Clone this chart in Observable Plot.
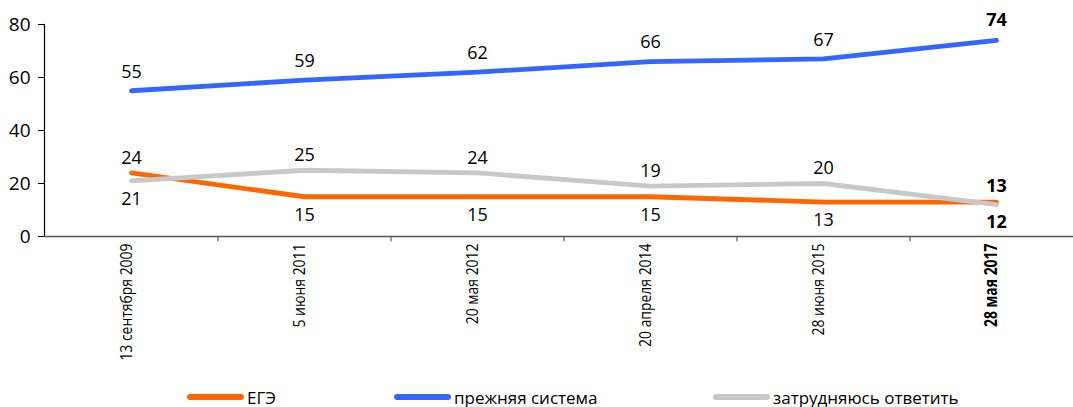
<!DOCTYPE html>
<html>
<head>
<meta charset="utf-8">
<script src="https://cdn.jsdelivr.net/npm/d3@7"></script>
<script src="https://cdn.jsdelivr.net/npm/@observablehq/plot@0.6"></script>
<style>
  html, body { margin: 0; padding: 0; background: #fff; }
  #chart svg { display: block; }
  #legend { position: relative; height: 27px; width: 1073px; overflow: hidden;
    font-family: "Open Sans", "DejaVu Sans", sans-serif; font-size: 17px; color: #000; }
  .item { position: absolute; top: 6px; display: flex; align-items: center; height: 22px; white-space: nowrap; }
  .sw { display: inline-block; width: 57px; height: 6px; border-radius: 3px; margin-right: 3px; }
</style>
</head>
<body>
<div id="chart"></div>
<div id="legend"></div>
<script>
const dates = ["13 сентября 2009", "5 июня 2011", "20 мая 2012", "20 апреля 2014", "28 июня 2015", "28 мая 2017"];
const seriesNames = ["ЕГЭ", "прежняя система", "затрудняюсь ответить"];
const egeValues = [24, 15, 15, 15, 13, 13];
const prevValues = [55, 59, 62, 66, 67, 74];
const hardValues = [21, 25, 24, 19, 20, 12];
const seriesColors = ["#FF6600", "#3366FF", "#C8C8C8"];
const yTicks = [0, 20, 40, 60, 80];

const seriesValues = [egeValues, prevValues, hardValues];
const rows = [];
seriesNames.forEach((s, k) => {
  dates.forEach((d, i) => rows.push({series: s, date: d, value: seriesValues[k][i], i}));
});
// label placement: blue always above; among orange/gray, higher one above
const labelRows = rows.map(r => {
  let pos;
  if (r.series === seriesNames[1]) pos = "top";
  else {
    const other = r.series === seriesNames[0] ? hardValues[r.i] : egeValues[r.i];
    pos = r.value >= other ? "above" : "below";
  }
  return {...r, pos, bold: r.i === dates.length - 1};
});

const font = "'Open Sans', 'DejaVu Sans', sans-serif";
const labelMark = (pos, bold, dy) => Plot.text(labelRows.filter(r => r.pos === pos && r.bold === bold), {
  x: "date", y: "value", text: d => String(d.value), dy,
  fontSize: 18, fontWeight: bold ? "bold" : "normal", fill: "#000"
});

const plot = Plot.plot({
  width: 1073,
  height: 380,
  marginLeft: 44,
  marginRight: 0,
  marginTop: 24,
  marginBottom: 144,
  style: {fontFamily: font, background: "#fff", color: "#000"},
  x: {type: "point", domain: dates, range: [44, 1082], padding: 0.5, axis: null},
  y: {domain: [0, 80], axis: null},
  color: {domain: seriesNames, range: seriesColors},
  marks: [
    Plot.frame({anchor: "left", stroke: "#000", strokeWidth: 1.2}),
    Plot.axisY({ticks: yTicks, tickSize: 6, tickPadding: 8, fontSize: 19, stroke: "#000", label: null}),
    Plot.ruleY([0], {stroke: "#555", strokeWidth: 1.4}),
    Plot.ruleX(dates.slice(1), {x: d => d, dx: -86.5, y1: 0, y2: -2, stroke: "#555", strokeWidth: 1.2}),
    Plot.text(dates.slice(0, -1), {x: d => d, frameAnchor: "bottom", rotate: -90, textAnchor: "end", dy: 7, fontSize: 17, fill: "#000", className: "xlab"}),
    Plot.text(dates.slice(-1), {x: d => d, frameAnchor: "bottom", rotate: -90, textAnchor: "end", dy: 7, fontSize: 17, fontWeight: "bold", fill: "#000", className: "xlab"}),
    Plot.line(rows, {x: "date", y: "value", z: "series", stroke: "series", strokeWidth: 4.8, strokeLinejoin: "round", strokeLinecap: "round"}),
    labelMark("top", false, -19),
    labelMark("top", true, -20),
    labelMark("above", false, -15),
    labelMark("above", true, -16),
    labelMark("below", false, 18),
    labelMark("below", true, 18)
  ]
});
// condense rotated x labels along their length
plot.querySelectorAll("g.xlab text").forEach(t => {
  const tr = t.getAttribute("transform") || "";
  t.setAttribute("transform", tr + " scale(0.82,1)");
});
document.getElementById("chart").appendChild(plot);

const legendLeft = [187, 394, 713];
const legend = document.getElementById("legend");
seriesNames.forEach((s, k) => {
  const item = document.createElement("div");
  item.className = "item";
  item.style.left = legendLeft[k] + "px";
  const sw = document.createElement("span");
  sw.className = "sw";
  sw.style.background = seriesColors[k];
  const t = document.createElement("span");
  t.textContent = s;
  item.appendChild(sw);
  item.appendChild(t);
  legend.appendChild(item);
});
</script>
</body>
</html>
